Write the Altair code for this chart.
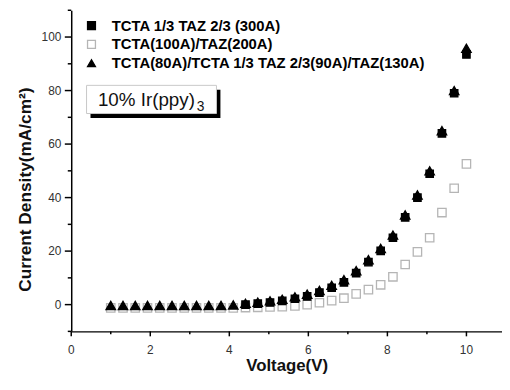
import altair as alt
import pandas as pd

voltage = [1.00, 1.31, 1.62, 1.93, 2.24, 2.55, 2.86, 3.17, 3.48, 3.79,
           4.10, 4.41, 4.72, 5.03, 5.34, 5.66, 5.97, 6.28, 6.59, 6.90,
           7.21, 7.52, 7.83, 8.14, 8.45, 8.76, 9.07, 9.38, 9.69, 10.00]

# filled squares are only visible from 4.41 V on
mixed_v = voltage[11:]
mixed_300 = [0.0, 0.4, 0.8, 1.4, 2.2, 3.1, 4.5, 6.3, 8.3,
             11.8, 15.9, 20.1, 25.0, 32.6, 40.0, 48.9, 64.0, 79.0, 93.5]

bilayer = [-1.2, -1.2, -1.2, -1.2, -1.2, -1.2, -1.2, -1.2, -1.2, -1.2,
           -1.2, -1.1, -1.0, -0.9, -0.8, -0.5, 0.0, 0.7, 1.5, 2.4,
           4.0, 5.6, 7.4, 10.4, 15.0, 19.7, 25.0, 34.4, 43.5, 52.6]

trilayer = [-0.3, -0.3, -0.3, -0.3, -0.3, -0.3, -0.3, -0.3, -0.3, -0.3,
            -0.1, 0.5, 0.9, 1.4, 2.0, 2.9, 3.9, 5.3, 7.2, 9.3,
            12.7, 16.8, 21.0, 26.0, 33.5, 41.0, 50.0, 65.0, 80.0, 95.8]

x_major = [0, 2, 4, 6, 8, 10]
x_minor = [1, 3, 5, 7, 9]
y_major = [0, 20, 40, 60, 80, 100]
y_minor = [-10, 10, 30, 50, 70, 90, 110]

names = ["TCTA 1/3 TAZ 2/3 (300A)", "TCTA(100A)/TAZ(200A)",
         "TCTA(80A)/TCTA 1/3 TAZ 2/3(90A)/TAZ(130A)"]
sizes = [56, 72, 92]

FONT = "Liberation Sans"
W, H = 436, 325
xs = alt.Scale(domain=[0, 10.9], nice=False, zero=False)
ys = alt.Scale(domain=[-10, 110], nice=False, zero=False)

x_axis = alt.Axis(
    values=x_major, ticks=False, labels=False,
    grid=False, domainColor="black", domainWidth=1.5,
    title="Voltage(V)", titleFont=FONT, titleFontSize=17, titleFontWeight="bold",
    titleColor="#111", titleBaseline="alphabetic", titleY=40,
)
y_axis = alt.Axis(
    values=y_major, ticks=False, labels=False,
    grid=False, domainColor="black", domainWidth=1.5,
    title="Current Density(mA/cm²)", titleFont=FONT, titleFontSize=17.5,
    titleFontWeight="bold", titleColor="#111", titleX=-37, titleY=181,
)

shape_enc = alt.Shape("series:N", scale=alt.Scale(domain=names, range=["square", "square", "triangle-up"]),
                      legend=alt.Legend(orient="none", legendX=13, legendY=8, title=None, padding=0,
                                        labelFont=FONT, labelFontSize=15, labelFontWeight="bold",
                                        labelColor="black", labelOffset=13, rowPadding=3,
                                        symbolSize=64, symbolStrokeWidth=1.3, labelLimit=500))
fill_enc = alt.Fill("series:N", scale=alt.Scale(domain=names, range=["black", "transparent", "black"]),
                    legend=None)
stroke_enc = alt.Stroke("series:N", scale=alt.Scale(domain=names, range=["black", "#b5b5b5", "black"]),
                        legend=None)

layers = []
for name, xv, yv, sz in [(names[1], voltage, bilayer, sizes[1]),
                         (names[0], mixed_v, mixed_300, sizes[0]),
                         (names[2], voltage, trilayer, sizes[2])]:
    d = pd.DataFrame({"V": xv, "J": yv, "series": [name] * len(xv)})
    layers.append(
        alt.Chart(d).mark_point(size=sz, strokeWidth=1.3, opacity=1).encode(
            x=alt.X("V:Q", scale=xs, axis=x_axis),
            y=alt.Y("J:Q", scale=ys, axis=y_axis),
            shape=shape_enc, fill=fill_enc, stroke=stroke_enc,
        )
    )

# axis ticks (major and minor), placed through the scales
def xticks(vals, length):
    return alt.Chart(pd.DataFrame({"V": vals})).mark_rule(color="black", strokeWidth=1.5).encode(
        x=alt.X("V:Q", scale=xs, axis=x_axis), y=alt.value(H), y2=alt.value(H + length))

def yticks(vals, length):
    return alt.Chart(pd.DataFrame({"J": vals})).mark_rule(color="black", strokeWidth=1.5).encode(
        y=alt.Y("J:Q", scale=ys, axis=y_axis), x=alt.value(0), x2=alt.value(-length))

# tick labels, placed through the scales
xlab = alt.Chart(pd.DataFrame({"V": x_major, "t": [str(v) for v in x_major]})).mark_text(
    font=FONT, fontSize=12, color="#333", align="center", baseline="top").encode(
    x=alt.X("V:Q", scale=xs, axis=x_axis), y=alt.value(H + 14), text="t:N")
ylab = alt.Chart(pd.DataFrame({"J": y_major, "t": [str(v) for v in y_major]})).mark_text(
    font=FONT, fontSize=12, color="#333", align="right", baseline="middle").encode(
    y=alt.Y("J:Q", scale=ys, axis=y_axis), x=alt.value(-10), text="t:N")

tick_layers = [xticks(x_major, 5), xticks(x_minor, 3), yticks(y_major, 6.5), yticks(y_minor, 3.5),
               xlab, ylab]

one = pd.DataFrame({"a": [0]})
shadow = alt.Chart(one).mark_rect(color="black").encode(
    x=alt.value(19.5), x2=alt.value(151), y=alt.value(80.5), y2=alt.value(109))
box = alt.Chart(one).mark_rect(fill="white", stroke="#c8c8c8", strokeWidth=1).encode(
    x=alt.value(15.5), x2=alt.value(147), y=alt.value(76), y2=alt.value(104.5))
label = alt.Chart(one).mark_text(text="10% Ir(ppy)", font=FONT, fontSize=19, align="left",
                                 baseline="alphabetic", color="#111").encode(
    x=alt.value(27), y=alt.value(96.5))
sub = alt.Chart(one).mark_text(text="3", font=FONT, fontSize=14, align="left",
                               baseline="alphabetic", color="#111").encode(
    x=alt.value(127), y=alt.value(102))

chart = alt.layer(*tick_layers, shadow, box, label, sub, *layers).properties(
    width=W, height=H,
    autosize=alt.AutoSizeParams(type="none"),
    padding={"left": 64, "top": 0, "right": 0, "bottom": 55},
).configure_view(stroke=None)

chart.save("out.html", embed_options={"renderer": "svg", "actions": False})
